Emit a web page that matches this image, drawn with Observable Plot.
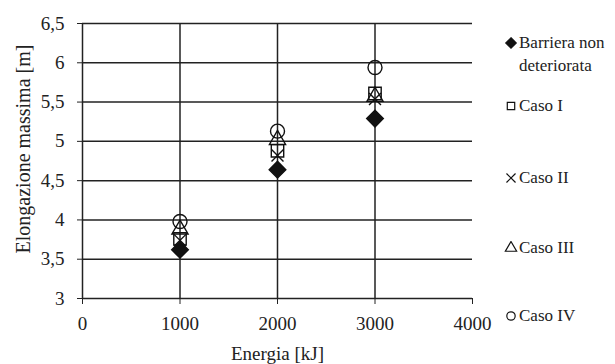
<!DOCTYPE html>
<html>
<head>
<meta charset="utf-8">
<script src="https://cdn.jsdelivr.net/npm/d3@7"></script>
<script src="https://cdn.jsdelivr.net/npm/@observablehq/plot@0.6"></script>
<style>
  html, body { margin: 0; padding: 0; background: white; }
  #wrap { position: relative; width: 615px; height: 364px; font-family: "Liberation Serif", "Times New Roman", Tinos, "DejaVu Serif", serif; color: #222; }
  #wrap svg text { font-family: "Liberation Serif", "Times New Roman", Tinos, "DejaVu Serif", serif; }
  .leg { position: absolute; left: 504px; font-size: 17px; line-height: 23px; display: flex; align-items: flex-start; }
  .leg svg { flex: none; margin-top: 5px; }
  .leg span { margin-left: 1px; }
</style>
</head>
<body>
<div id="wrap"></div>
<script>
// ---- data ----
const energies = [1000, 2000, 3000];
const seriesNames = ["Barriera non deteriorata", "Caso I", "Caso II", "Caso III", "Caso IV"];
const barriera = [3.62, 4.64, 5.29];
const casoI = [3.76, 4.88, 5.61];
const casoII = [3.74, 4.82, 5.54];
const casoIII = [3.88, 5.02, 5.57];
const casoIV = [3.98, 5.13, 5.94];
const xTicks = [0, 1000, 2000, 3000, 4000];
const yTicks = [3, 3.5, 4, 4.5, 5, 5.5, 6, 6.5];
const xLabel = "Energia [kJ]";
const yLabel = "Elongazione massima [m]";

const seriesValues = [barriera, casoI, casoII, casoIII, casoIV];
const symbols = ["diamond2", "square", "times", "triangle", "circle"];
const fills = ["#111", "none", "none", "none", "none"];
const radii = [7.5, 7, 5.5, 6, 7];

const rows = [];
seriesNames.forEach((s, i) => energies.forEach((e, j) => rows.push({series: s, idx: i, energia: e, val: seriesValues[i][j]})));

const ink = "#222";
const fontStack = "'Liberation Serif', 'Times New Roman', Tinos, 'DejaVu Serif', serif";
const dotMarks = seriesNames.map((s, i) =>
  Plot.dot(rows.filter(r => r.idx === i), {
    x: "energia", y: "val",
    symbol: () => symbols[i],
    r: radii[i],
    fill: fills[i],
    stroke: "#111",
    strokeWidth: 1.4
  })
);

const chart = Plot.plot({
  width: 615,
  height: 364,
  marginLeft: 82,
  marginRight: 143,
  marginTop: 23,
  marginBottom: 66,
  style: {fontFamily: fontStack, fontSize: "19px", color: ink, background: "white", overflow: "visible"},
  x: {domain: [0, 4000]},
  y: {domain: [3, 6.5]},
  symbol: {type: "identity"},
  marks: [
    Plot.gridY({ticks: yTicks, stroke: ink, strokeOpacity: 1, strokeWidth: 1.5}),
    Plot.gridX({ticks: [1000, 2000, 3000], stroke: ink, strokeOpacity: 1, strokeWidth: 1.5}),
    Plot.ruleX([0], {stroke: ink, strokeWidth: 1.5}),
    Plot.axisY({ticks: yTicks, tickFormat: d => String(d).replace(".", ","), tickSize: 5, tickPadding: 13, label: null, stroke: ink}),
    Plot.axisX({ticks: xTicks, tickFormat: d => String(d), tickSize: 6, tickPadding: 12, label: null, stroke: ink}),
    Plot.text([yLabel], {text: d => d, frameAnchor: "left", dx: -59, dy: -12, rotate: -90, fontSize: 20, textAnchor: "middle", lineAnchor: "middle", fill: ink}),
    Plot.text([xLabel], {text: d => d, frameAnchor: "bottom", dy: 55, fontSize: 19, textAnchor: "middle", lineAnchor: "middle", fill: ink}),
    ...dotMarks
  ]
});
const wrap = document.getElementById("wrap");
wrap.appendChild(chart);

// ---- legend (HTML, right side) ----
const legendTops = [31, 94, 166, 236, 304];
const legendText = ["Barriera non<br>deteriorata", "Caso I", "Caso II", "Caso III", "Caso IV"];
seriesNames.forEach((s, i) => {
  const div = document.createElement("div");
  div.className = "leg";
  div.style.top = legendTops[i] + "px";
  const sym = d3.symbol().type({
    diamond2: d3.symbolDiamond2, square: d3.symbolSquare, times: d3.symbolTimes,
    triangle: d3.symbolTriangle, circle: d3.symbolCircle
  }[symbols[i]]).size(i === 0 ? 70 : 55)();
  div.innerHTML = `<svg width="14" height="14" viewBox="-7 -7 14 14"><path d="${sym}" fill="${fills[i]}" stroke="#111" stroke-width="1.2"/></svg><span>${legendText[i]}</span>`;
  wrap.appendChild(div);
});
</script>
</body>
</html>
